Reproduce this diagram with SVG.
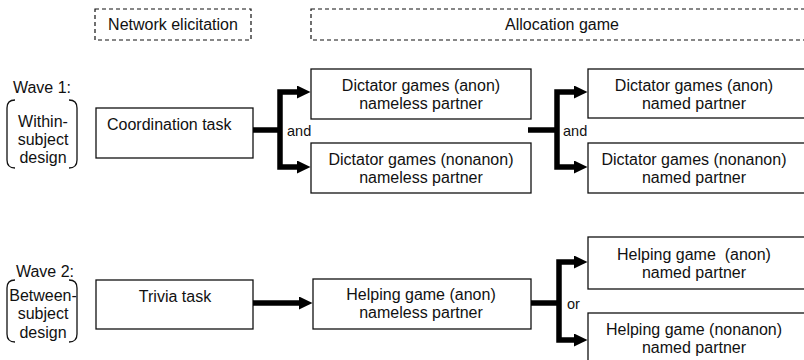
<svg xmlns="http://www.w3.org/2000/svg" width="804" height="360" viewBox="0 0 804 360">
<style>
text{font-family:"Liberation Sans",Arial,sans-serif;font-size:16px;fill:#111}
.m{text-anchor:middle}
.sm{font-size:14.5px}
.box{fill:#fff;stroke:#111;stroke-width:1.3}
.dash{fill:none;stroke:#111;stroke-width:1.2;stroke-dasharray:4 3}
.br{fill:none;stroke:#111;stroke-width:1.3}
.con{fill:none;stroke:#000;stroke-width:5.5;stroke-linejoin:miter}
.arr{marker-end:url(#ah)}
</style>
<defs>
<marker id="ah" markerUnits="userSpaceOnUse" markerWidth="14" markerHeight="14" refX="0" refY="6.5" orient="auto">
<path d="M0,0 L13.5,6.5 L0,13 z" fill="#000"/>
</marker>
</defs>
<rect width="804" height="360" fill="#fff"/>

<g id="hdr-network">
<rect class="dash" x="95" y="9" width="156" height="31"/>
<text class="m" x="173" y="30">Network elicitation</text>
</g>
<g id="hdr-allocation">
<rect class="dash" x="311" y="9" width="502" height="31"/>
<text class="m" x="562" y="30">Allocation game</text>
</g>

<g id="wave1">
<text class="m" x="42" y="93">Wave 1:</text>
<path class="br" d="M15,100 Q7,100 7,108 L7,160 Q7,168 15,168"/>
<path class="br" d="M69,100 Q77,100 77,108 L77,160 Q77,168 69,168"/>
<text class="m" x="43" y="127">Within-</text>
<text class="m" x="43" y="145">subject</text>
<text class="m" x="43" y="163">design</text>
</g>
<g id="wave2">
<text class="m" x="45" y="277">Wave 2:</text>
<path class="br" d="M15,280 Q7,280 7,288 L7,334 Q7,342 15,342"/>
<path class="br" d="M69,280 Q77,280 77,288 L77,334 Q77,342 69,342"/>
<text class="m" x="43" y="301">Between-</text>
<text class="m" x="43" y="319">subject</text>
<text class="m" x="43" y="338">design</text>
</g>

<g id="coordination">
<rect class="box" x="96" y="108" width="157" height="50"/>
<text x="107" y="130">Coordination task</text>
</g>
<g id="dict-anon-nameless">
<rect class="box" x="311" y="69" width="220" height="50"/>
<text class="m" x="421" y="91">Dictator games (anon)</text>
<text class="m" x="421" y="109">nameless partner</text>
</g>
<g id="dict-nonanon-nameless">
<rect class="box" x="311" y="143" width="220" height="50"/>
<text class="m" x="421" y="165">Dictator games (nonanon)</text>
<text class="m" x="421" y="183">nameless partner</text>
</g>
<g id="dict-anon-named">
<rect class="box" x="588" y="69" width="218" height="49"/>
<text class="m" x="694" y="91">Dictator games (anon)</text>
<text class="m" x="694" y="109">named partner</text>
</g>
<g id="dict-nonanon-named">
<rect class="box" x="588" y="143" width="218" height="50"/>
<text class="m" x="694" y="165">Dictator games (nonanon)</text>
<text class="m" x="694" y="183">named partner</text>
</g>

<g id="trivia">
<rect class="box" x="96" y="280" width="157" height="49"/>
<text class="m" x="175" y="302">Trivia task</text>
</g>
<g id="help-anon-nameless">
<rect class="box" x="313" y="279" width="218" height="50"/>
<text class="m" x="421" y="300">Helping game (anon)</text>
<text class="m" x="421" y="318">nameless partner</text>
</g>
<g id="help-anon-named">
<rect class="box" x="588" y="237" width="218" height="52"/>
<text class="m" x="694" y="260" xml:space="preserve" style="white-space:pre">Helping game  (anon)</text>
<text class="m" x="694" y="278">named partner</text>
</g>
<g id="help-nonanon-named">
<rect class="box" x="588" y="313" width="218" height="60"/>
<text class="m" x="694" y="335">Helping game (nonanon)</text>
<text class="m" x="694" y="353">named partner</text>
</g>

<g id="connectors">
<path class="con" d="M253,130 H280"/>
<path class="con arr" d="M280,130 V92 H297"/>
<path class="con arr" d="M280,130 V167 H297"/>
<text class="sm" x="287" y="136">and</text>

<path class="con" d="M528,130 H557"/>
<path class="con arr" d="M557,130 V92 H574"/>
<path class="con arr" d="M557,130 V167 H574"/>
<text class="sm" x="563" y="136">and</text>

<path class="con arr" d="M253,303 H299"/>

<path class="con" d="M531,303 H559"/>
<path class="con arr" d="M559,303 V262 H574"/>
<path class="con arr" d="M559,303 V340 H574"/>
<text class="sm" x="567" y="309">or</text>
</g>
</svg>
